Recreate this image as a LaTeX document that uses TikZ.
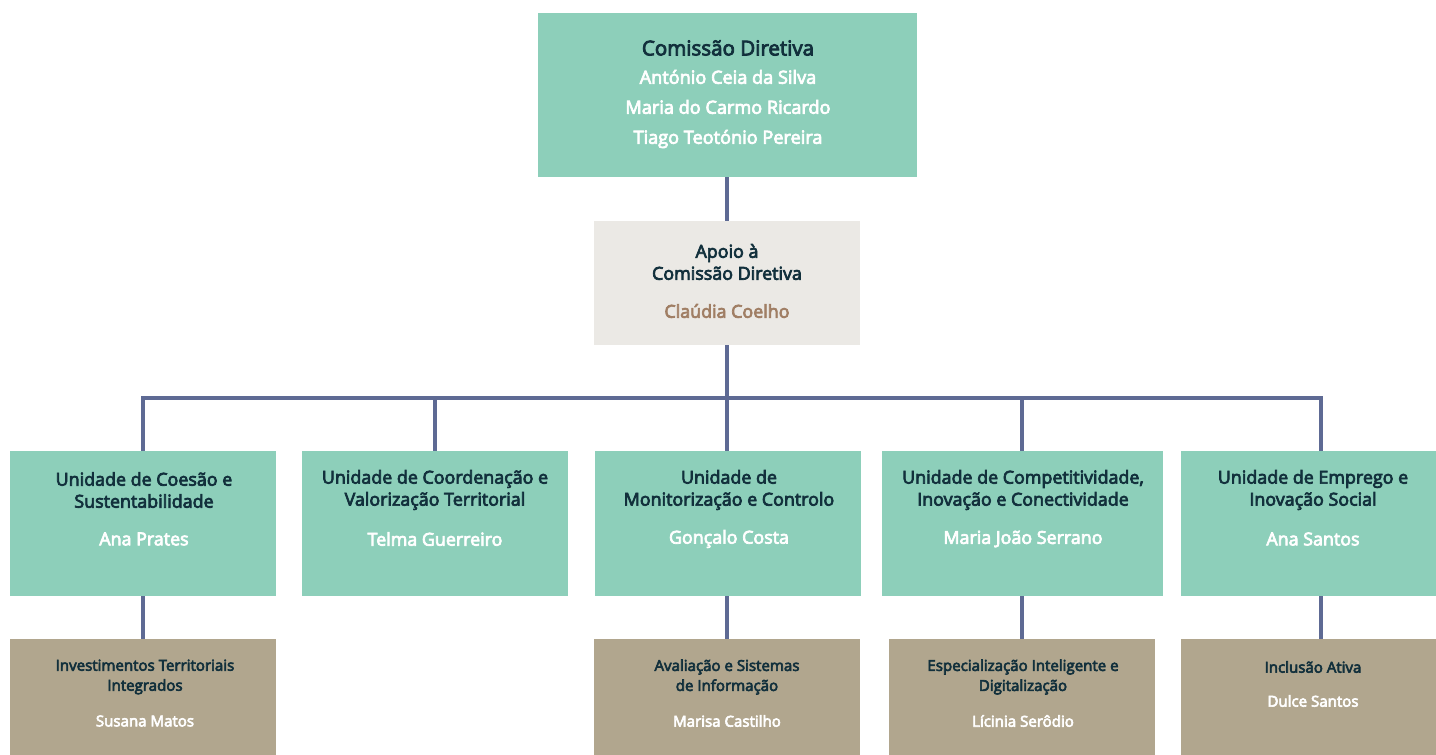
\documentclass[tikz,border=0pt]{standalone}
\usepackage{fontspec}
\setmainfont{Open Sans}[FakeBold=4]
\definecolor{teal}{HTML}{8DCFBA}
\definecolor{stone}{HTML}{EBE9E5}
\definecolor{sand}{HTML}{B1A68E}
\definecolor{ink}{HTML}{12303C}
\definecolor{wire}{HTML}{5E6A94}
\definecolor{clay}{HTML}{A07E64}
\begin{document}
\begin{tikzpicture}[x=0.75pt,y=-0.75pt,
  box/.style={rectangle,inner sep=0pt,minimum height=145*0.75pt},
  unit/.style={box,fill=teal,minimum width=266*0.75pt},
  sub/.style={box,fill=sand,minimum width=266*0.75pt,minimum height=140*0.75pt},
  link/.style={draw=wire,line width=2.3pt},
  head/.style={align=center,text=ink,font=\fontsize{13.4}{16.5}\selectfont},
  who/.style={align=center,text=white,font=\fontsize{13.4}{16.5}\selectfont},
  shead/.style={align=center,text=ink,font=\fontsize{11.3}{15}\selectfont},
  swho/.style={align=center,text=white,font=\fontsize{11.3}{15}\selectfont}]
\useasboundingbox (0,0) rectangle (1436,755);
% top
\node[box,fill=teal,minimum width=379*0.75pt,minimum height=164*0.75pt] (cd) at (727,95) {};
\node[head,font=\fontsize{15.4}{20}\selectfont] (cdt) at (728,48) {Comissão Diretiva};
\node[who,font=\fontsize{13.6}{22.5}\selectfont] (cdn) at (728,109) {António Ceia da Silva\\Maria do Carmo Ricardo\\Tiago Teotónio Pereira};
\node[box,fill=stone,minimum width=266*0.75pt,minimum height=124*0.75pt] (ap) at (727,283) {};
\node[head] (apt) at (727,262) {Apoio à\\Comissão Diretiva};
\node[who,text=clay] (apn) at (727,311) {Claúdia Coelho};
% units
\node[unit] (u1) at (143,523.5) {};
\node[unit] (u2) at (435,523.5) {};
\node[unit] (u3) at (728,523.5) {};
\node[unit,minimum width=281*0.75pt] (u4) at (1022,523.5) {};
\node[unit,minimum width=280*0.75pt] (u5) at (1321,523.5) {};
\node[head] (u1t) at (144,490) {Unidade de Coesão e\\Sustentabilidade};
\node[who] (u1n) at (144,539) {Ana Prates};
\node[head] (u2t) at (435,490) {Unidade de Coordenação e\\Valorização Territorial};
\node[who] (u2n) at (435,539) {Telma Guerreiro};
\node[head] (u3t) at (729,490) {Unidade de\\Monitorização e Controlo};
\node[who] (u3n) at (729,539) {Gonçalo Costa};
\node[head] (u4t) at (1023,490) {Unidade de Competitividade,\\Inovação e Conectividade};
\node[who] (u4n) at (1023,539) {Maria João Serrano};
\node[head] (u5t) at (1313,490) {Unidade de Emprego e\\Inovação Social};
\node[who] (u5n) at (1313,539) {Ana Santos};
% teams
\node[sub] (s1) at (143,709) {};
\node[sub] (s3) at (727,709) {};
\node[sub,minimum width=266*0.75pt] (s4) at (1022,709) {};
\node[sub,minimum width=280*0.75pt] (s5) at (1321,709) {};
\node[shead] (s1t) at (145,677) {Investimentos Territoriais\\Integrados};
\node[swho] (s1n) at (145,721) {Susana Matos};
\node[shead] (s3t) at (727,677) {Avaliação e Sistemas\\de Informação};
\node[swho] (s3n) at (727,721) {Marisa Castilho};
\node[shead] (s4t) at (1023,677) {Especialização Inteligente e\\Digitalização};
\node[swho] (s4n) at (1023,721) {Lícinia Serôdio};
\node[shead] (s5t) at (1313,667) {Inclusão Ativa};
\node[swho] (s5n) at (1313,701) {Dulce Santos};
% lines
\coordinate (bus) at (727,398);
\draw[link] (cd.south -| ap) -- (ap);
\draw[link] (ap) -- (bus);
\draw[link] (u1.north) |- (bus) -| (u5.north);
\draw[link] (u2.north) -- (u2.north |- bus);
\draw[link] (bus) -- (bus |- u3.north);
\draw[link] (u4.north) -- (u4.north |- bus);
\draw[link] (u1) -- (s1);
\draw[link] (u3.south -| s3) -- (s3);
\draw[link] (u4) -- (s4);
\draw[link] (u5) -- (s5);
\end{tikzpicture}
\end{document}
